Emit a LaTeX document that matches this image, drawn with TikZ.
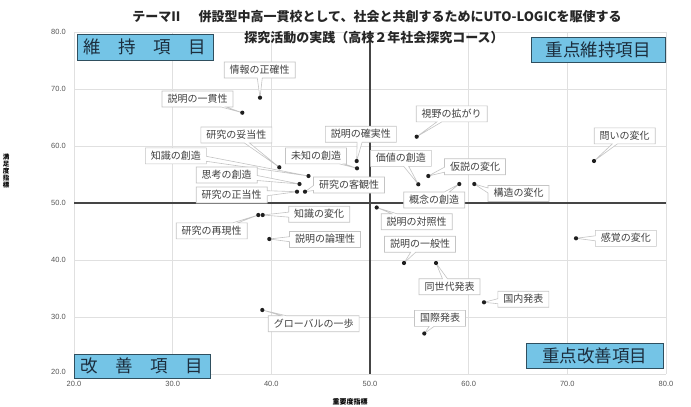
\documentclass[tikz,border=0pt]{standalone}
\usepackage{fontspec}
\setmainfont{Liberation Sans}
\newfontfamily\cjk{Noto Sans CJK JP}
\usetikzlibrary{shapes.callouts}
\definecolor{gridc}{HTML}{E0E0E0}
\definecolor{axisc}{HTML}{454545}
\definecolor{boxfill}{HTML}{74C4E6}
\definecolor{boxedge}{HTML}{2F4F5F}
\definecolor{boxtext}{HTML}{1C2E3E}
\definecolor{lbledge}{HTML}{C4C4C4}
\definecolor{lbltext}{HTML}{404040}
\definecolor{tickc}{HTML}{555555}
\begin{document}
\begin{tikzpicture}[x=1pt,y=-1pt,
  lbl/.style={rectangle callout, draw=lbledge, fill=white, line width=0.6pt,
    text=lbltext, font=\cjk\fontsize{10}{12}\selectfont,
    inner xsep=5.5pt, inner ysep=2.8pt, text height=8.6pt, text depth=1.8pt,
    callout pointer width=5pt},
  qbox/.style={rectangle, draw=boxedge, fill=boxfill, line width=0.8pt,
    text=boxtext, font=\cjk\fontsize{17.5}{20}\selectfont, inner sep=0pt},
  dotm/.style={circle, fill=black!88, inner sep=0pt, minimum size=4.2pt},
  tick/.style={text=tickc, font=\fontsize{7.5}{9}\selectfont, inner sep=0pt},
  ttl/.style={font=\cjk\bfseries\fontsize{13}{15}\selectfont, text=black!85, inner sep=0pt}]
\useasboundingbox (0,0) rectangle (691,407);

% grid
\foreach \gx in {74,172.67,271.33,468.67,567.33,666}
  \draw[gridc, line width=0.6pt] (\gx,32) -- (\gx,374);
\foreach \gy in {32,89,146,260,317,374}
  \draw[gridc, line width=0.6pt] (74,\gy) -- (666,\gy);
% centre lines
\draw[axisc, line width=1.3pt] (370,32) -- (370,374);
\draw[axisc, line width=1.3pt] (74,203) -- (666,203);

% tick labels
\node[tick, anchor=east] at (66,32) {80.0};
\node[tick, anchor=east] at (66,89) {70.0};
\node[tick, anchor=east] at (66,146) {60.0};
\node[tick, anchor=east] at (66,203) {50.0};
\node[tick, anchor=east] at (66,260) {40.0};
\node[tick, anchor=east] at (66,317) {30.0};
\node[tick, anchor=east] at (66,372) {20.0};
\node[tick] at (74,384) {20.0};
\node[tick] at (172.67,384) {30.0};
\node[tick] at (271.33,384) {40.0};
\node[tick] at (370,384) {50.0};
\node[tick] at (468.67,384) {60.0};
\node[tick] at (567.33,384) {70.0};
\node[tick] at (666,384) {80.0};

% axis titles
\node[font=\cjk\bfseries\fontsize{6.5}{7}\selectfont, align=center, inner sep=0pt] (ytitle) at (6,171) {満\\足\\度\\指\\標};
\node[font=\cjk\bfseries\fontsize{7}{8}\selectfont, inner sep=0pt] (xtitle) at (350,402) {重要度指標};

% title
\node[ttl] (t1) at (377,17) {テーマII\hspace{1.4em}併設型中高一貫校として、社会と共創するためにUTO-LOGICを駆使する};
\node[ttl] (t2) at (374,38) {探究活動の実践（高校２年社会探究コース）};

% quadrant boxes
\node[qbox, minimum width=136pt, minimum height=26pt] (q1) at (145,47) {維　持　項　目};
\node[qbox, minimum width=134pt, minimum height=25pt] (q2) at (598,49.5) {重点維持項目};
\node[qbox, minimum width=136pt, minimum height=24pt] (q3) at (142,366) {改　善　項　目};
\node[qbox, minimum width=137pt, minimum height=25pt] (q4) at (594.5,355.5) {重点改善項目};

% data points
\coordinate (p1) at (260,97.7);
\coordinate (p2) at (242.3,112.7);
\coordinate (p3) at (279.3,167.3);
\coordinate (p4) at (308.5,176);
\coordinate (p5) at (299.5,184);
\coordinate (p6) at (297,191.7);
\coordinate (p7) at (305,191.7);
\coordinate (p8) at (357,168.3);
\coordinate (p9) at (356.7,161);
\coordinate (p10) at (418.3,184.3);
\coordinate (p11) at (428.3,176);
\coordinate (p12) at (459.3,184);
\coordinate (p13) at (474.3,184);
\coordinate (p14) at (416.7,136.7);
\coordinate (p15) at (594,161);
\coordinate (p16) at (262.7,215);
\coordinate (p17) at (258.3,215);
\coordinate (p18) at (269.3,239);
\coordinate (p19) at (376.7,207.5);
\coordinate (p20) at (404,263);
\coordinate (p21) at (436,263);
\coordinate (p22) at (576,238.3);
\coordinate (p23) at (484,302.3);
\coordinate (p24) at (424.3,333.5);
\coordinate (p25) at (262.3,310);

% labels (callouts)
\node[lbl, callout absolute pointer=(p1)] (l1) at (259.7,70) {情報の正確性};
\node[lbl, callout absolute pointer=(p2)] (l2) at (197.5,99) {説明の一貫性};
\node[lbl, callout absolute pointer=(p3)] (l3) at (236.3,135) {研究の妥当性};
\node[lbl, callout absolute pointer=(p4)] (l4) at (175.8,155.8) {知識の創造};
\node[lbl, callout absolute pointer=(p5)] (l5) at (226.7,175) {思考の創造};
\node[lbl, callout absolute pointer=(p6)] (l6) at (231.7,195) {研究の正当性};
\node[lbl, callout absolute pointer=(p7)] (l7) at (349,185) {研究の客観性};
\node[lbl, callout absolute pointer=(p8)] (l8) at (316,155.8) {未知の創造};
\node[lbl, callout absolute pointer=(p9)] (l9) at (360.8,134.2) {説明の確実性};
\node[lbl, callout absolute pointer=(p10)] (l10) at (400.8,158.3) {価値の創造};
\node[lbl, callout absolute pointer=(p11)] (l11) at (475,166.7) {仮説の変化};
\node[lbl, callout absolute pointer=(p12)] (l12) at (434.2,200) {概念の創造};
\node[lbl, callout absolute pointer=(p13)] (l13) at (518.5,193.5) {構造の変化};
\node[lbl, callout absolute pointer=(p14)] (l14) at (451.7,113.8) {視野の拡がり};
\node[lbl, callout absolute pointer=(p15)] (l15) at (624.7,135.8) {問いの変化};
\node[lbl, callout absolute pointer=(p16)] (l16) at (319.2,214.2) {知識の変化};
\node[lbl, callout absolute pointer=(p17)] (l17) at (211.7,230.8) {研究の再現性};
\node[lbl, callout absolute pointer=(p18)] (l18) at (325,239.5) {説明の論理性};
\node[lbl, callout absolute pointer=(p19)] (l19) at (416.7,221.7) {説明の対照性};
\node[lbl, callout absolute pointer=(p20)] (l20) at (420,244.2) {説明の一般性};
\node[lbl, callout absolute pointer=(p21)] (l21) at (449.5,286.7) {同世代発表};
\node[lbl, callout absolute pointer=(p22)] (l22) at (625.8,238.3) {感覚の変化};
\node[lbl, callout absolute pointer=(p23)] (l23) at (523.3,299.2) {国内発表};
\node[lbl, callout absolute pointer=(p24)] (l24) at (440,318.3) {国際発表};
\node[lbl, callout absolute pointer=(p25)] (l25) at (313.7,323.7) {グローバルの一歩};

% dots
\foreach \i in {1,...,25}
  \node[dotm] (d\i) at (p\i) {};
\end{tikzpicture}
\end{document}
